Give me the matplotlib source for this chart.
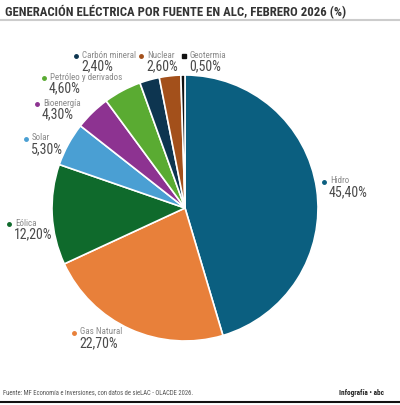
import matplotlib
matplotlib.use("Agg")
from matplotlib import pyplot as plt
from matplotlib.lines import Line2D

# data
fuentes = ["Hidro", "Gas Natural", "Eólica", "Solar", "Bioenergía",
           "Petróleo y derivados", "Carbón mineral", "Nuclear", "Geotermia"]
valores = [45.4, 22.7, 12.2, 5.3, 4.3, 4.6, 2.4, 2.6, 0.5]
etiquetas = ["45,40%", "22,70%", "12,20%", "5,30%", "4,30%",
             "4,60%", "2,40%", "2,60%", "0,50%"]
colores = ["#0b5f80", "#e8803a", "#0f6a2c", "#4a9fd3", "#8d3391",
           "#5aab32", "#0d3550", "#a3501b", "#111111"]

# label anchor positions (pixels from top-left)
pos_lab = [(330, 181), (80, 332), (15, 223), (32, 138), (43, 103),
           (50, 77), (82, 55), (147, 55), (190, 55)]

W, H = 400, 405
fig = plt.figure(figsize=(W / 100, H / 100), dpi=100)
fig.patch.set_facecolor("white")

FONT = ["Roboto Condensed", "DejaVu Sans"]

def px(x, y):
    return x / W, 1 - y / H

cx, cy, r = 185, 208, 133
ax = fig.add_axes([(cx - r) / W, 1 - (cy + r) / H, 2 * r / W, 2 * r / H])
ax.pie(valores, colors=colores, startangle=90, counterclock=False,
       wedgeprops=dict(edgecolor="white", linewidth=1.2))
ax.set_xlim(-1, 1)
ax.set_ylim(-1, 1)
ax.set_aspect("equal")
ax.axis("off")

for f, e, c, (x, y) in zip(fuentes, etiquetas, colores, pos_lab):
    mk = "s" if f == "Geotermia" else "o"
    fig.add_artist(Line2D([px(x - 6, y)[0]], [px(x - 6, y + 1)[1]], marker=mk,
                          markersize=2.5 if mk == "o" else 3, color=c,
                          linestyle="none", transform=fig.transFigure))
    fig.text(*px(x, y), f, fontsize=6.5, color="#8a8a8a", family=FONT,
             ha="left", va="center")
    fig.text(*px(x - 1, y + 11), e, fontsize=10, color="#4a4a4a", family=FONT,
             ha="left", va="center")

fig.text(*px(5, 12), "GENERACIÓN ELÉCTRICA POR FUENTE EN ALC, FEBRERO 2026 (%)",
         fontsize=9.2, weight="bold", color="#333333", family=FONT,
         ha="left", va="center")
fig.add_artist(Line2D([0, 1], [px(0, 20)[1]] * 2, color="#cccccc", linewidth=1.5,
                      transform=fig.transFigure))

fig.text(*px(3, 393), "Fuente: MF Economía e Inversiones, con datos de sieLAC - OLACDE 2026.",
         fontsize=4.8, color="#555555", family=FONT, ha="left", va="center")
fig.text(*px(384, 393), "Infografía • abc", fontsize=5.2, color="#222222",
         family=FONT, ha="right", va="center", weight="bold")
fig.add_artist(Line2D([0, 1], [px(0, 402)[1]] * 2, color="#111111", linewidth=1.5,
                      transform=fig.transFigure))

fig.savefig("out.png", dpi=100, facecolor="white")
